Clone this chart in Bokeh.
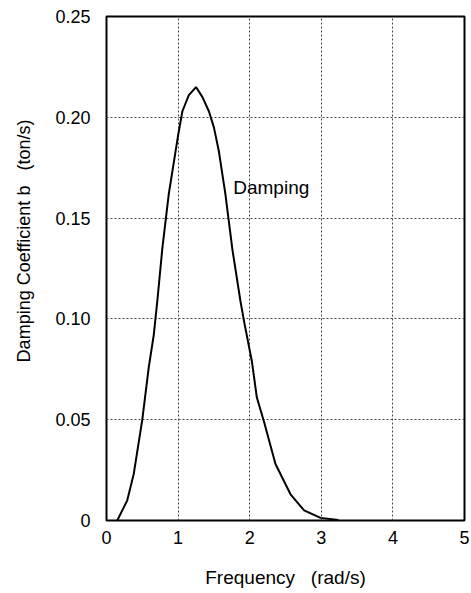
from bokeh.plotting import figure
from bokeh.models import Range1d, FixedTicker, CustomJSTickFormatter, Label
from bokeh.embed import file_html
from bokeh.resources import INLINE

freq = [0.15, 0.22, 0.29, 0.38, 0.50, 0.59, 0.66, 0.71, 0.78, 0.87, 1.00, 1.06,
        1.15, 1.25, 1.34, 1.43, 1.50, 1.57, 1.66, 1.76, 1.87, 1.92, 2.03, 2.10,
        2.20, 2.36, 2.57, 2.76, 2.99, 3.24]
damping = [0.0, 0.005, 0.010, 0.023, 0.050, 0.076, 0.092, 0.109, 0.135, 0.162,
           0.191, 0.203, 0.211, 0.215, 0.210, 0.203, 0.195, 0.183, 0.162, 0.134,
           0.109, 0.099, 0.079, 0.061, 0.049, 0.028, 0.013, 0.005, 0.0013, 0.0003]
x_ticks = [0, 1, 2, 3, 4, 5]
y_ticks = [0, 0.05, 0.10, 0.15, 0.20, 0.25]

FONT = "Liberation Sans"
NB = "\u00a0"

p = figure(frame_width=358, frame_height=504,
           x_range=Range1d(0, 5), y_range=Range1d(0, 0.25),
           output_backend="svg", toolbar_location=None,
           min_border_left=106, min_border_right=6,
           min_border_top=16, min_border_bottom=72)

p.line(freq, damping, line_color="black", line_width=2)

p.xaxis.ticker = FixedTicker(ticks=x_ticks)
p.yaxis.ticker = FixedTicker(ticks=y_ticks)
p.yaxis.formatter = CustomJSTickFormatter(code="return tick == 0 ? '0' : tick.toFixed(2);")

for ax in (p.xaxis, p.yaxis):
    ax.major_tick_in = 0
    ax.major_tick_out = 0
    ax.minor_tick_in = 0
    ax.minor_tick_out = 0
    ax.axis_line_color = None
    ax.major_label_text_font = FONT
    ax.major_label_text_font_size = "18px"
    ax.major_label_text_color = "black"
    ax.axis_label_text_font = FONT
    ax.axis_label_text_font_style = "normal"
    ax.axis_label_text_color = "black"

p.xaxis.major_label_standoff = 10
p.yaxis.major_label_standoff = 16
p.xaxis.axis_label = "Frequency" + NB * 3 + "(rad/s)"
p.xaxis.axis_label_text_font_size = "19px"
p.xaxis.axis_label_standoff = 20
p.yaxis.axis_label = NB * 11 + "Damping Coefficient b" + NB * 3 + "(ton/s)"
p.yaxis.axis_label_text_font_size = "18px"
p.yaxis.axis_label_standoff = 18

p.grid.grid_line_color = "#444444"
p.grid.grid_line_dash = "2 2"
p.grid.grid_line_width = 1

p.outline_line_color = "black"
p.outline_line_width = 2
p.outline_line_alpha = 1

lab = Label(x=1.77, y=0.165, text="Damping", text_align="left",
            text_baseline="middle", text_font=FONT, text_font_size="19px",
            text_color="black")
p.add_layout(lab)

open("out.html", "w").write(file_html(p, INLINE))
